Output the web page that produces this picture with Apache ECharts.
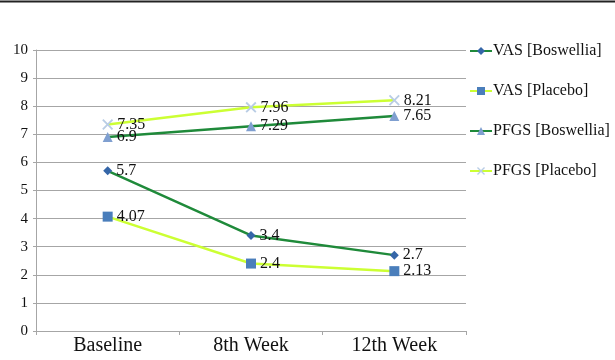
<!DOCTYPE html>
<html>
<head>
<meta charset="utf-8">
<script src="https://cdn.jsdelivr.net/npm/echarts@6/dist/echarts.min.js"></script>
<style>
  html, body { margin: 0; padding: 0; background: #fff; }
  #chart { width: 615px; height: 360px; }
</style>
</head>
<body>
<div id="chart"></div>
<script>
// Time points and scores
const categories = ['Baseline', '8th Week', '12th Week'];
const vasBoswellia = [5.7, 3.4, 2.7];
const vasPlacebo = [4.07, 2.4, 2.13];
const pfgsBoswellia = [6.9, 7.29, 7.65];
const pfgsPlacebo = [7.35, 7.96, 8.21];
const seriesNames = ['VAS [Boswellia]', 'VAS [Placebo]', 'PFGS [Boswellia]', 'PFGS [Placebo]'];
const yTicks = [0, 1, 2, 3, 4, 5, 6, 7, 8, 9, 10];

const FONT = 'Liberation Serif';
const DARK_GREEN = '#1f8a3a';
const LIME = '#ccff33';
const CROSS = 'path://M0,1.2 L1.2,0 L5,3.8 L8.8,0 L10,1.2 L6.2,5 L10,8.8 L8.8,10 L5,6.2 L1.2,10 L0,8.8 L3.8,5 Z';

function makeSeries(name, data, lineColor, symbol, symbolSize, markColor) {
  return {
    name: name,
    type: 'line',
    data: data,
    symbol: symbol,
    symbolSize: symbolSize,
    showAllSymbol: true,
    lineStyle: { color: lineColor, width: 2.5 },
    itemStyle: { color: markColor, borderWidth: 0 },
    label: {
      show: true,
      position: 'right',
      distance: 4,
      color: '#111',
      fontFamily: FONT,
      fontSize: 16
    },
    emphasis: { disabled: true },
    animation: false
  };
}

const chart = echarts.init(document.getElementById('chart'), null, { renderer: 'canvas' });
chart.setOption({
  backgroundColor: '#fff',
  animation: false,
  textStyle: { fontFamily: FONT },
  grid: { left: 36, right: 149, top: 50, bottom: 29, containLabel: false },
  xAxis: {
    type: 'category',
    data: categories,
    boundaryGap: true,
    axisLine: { lineStyle: { color: '#a6a6a6', width: 1 } },
    axisTick: { show: true, length: 4, lineStyle: { color: '#a6a6a6' } },
    axisLabel: { color: '#111', fontFamily: FONT, fontSize: 20, margin: 5 }
  },
  yAxis: {
    type: 'value',
    min: yTicks[0],
    max: yTicks[yTicks.length - 1],
    interval: 1,
    axisLine: { show: true, lineStyle: { color: '#a6a6a6', width: 1 } },
    axisTick: { show: true, length: 3, lineStyle: { color: '#a6a6a6' } },
    axisLabel: { color: '#111', fontFamily: FONT, fontSize: 15, margin: 8 },
    splitLine: { lineStyle: { color: '#a6a6a6', width: 1 } }
  },
  legend: {
    orient: 'vertical',
    left: 464,
    top: 38,
    itemWidth: 22,
    itemHeight: 10,
    itemGap: 24,
    data: seriesNames,
    textStyle: { color: '#111', fontFamily: FONT, fontSize: 16, padding: [0, 0, 0, -4] },
    selectedMode: false
  },
  series: [
    makeSeries(seriesNames[0], vasBoswellia, DARK_GREEN, 'diamond', 9, '#3566a8'),
    makeSeries(seriesNames[1], vasPlacebo, LIME, 'rect', 10, '#4a7ebb'),
    makeSeries(seriesNames[2], pfgsBoswellia, DARK_GREEN, 'triangle', 10, '#7f9fd0'),
    makeSeries(seriesNames[3], pfgsPlacebo, LIME, CROSS, 11, '#b9cde5')
  ],
  graphic: [
    {
      type: 'line',
      shape: { x1: 0, y1: 1.5, x2: 615, y2: 1.5 },
      style: { stroke: '#222', lineWidth: 2 },
      silent: true
    }
  ]
});
</script>
</body>
</html>
